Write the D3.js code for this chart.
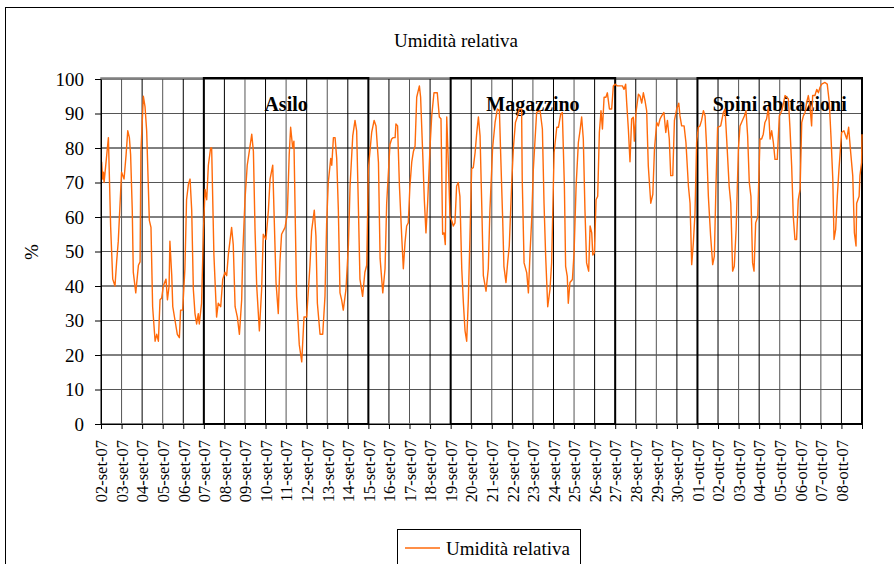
<!DOCTYPE html>
<html>
<head>
<meta charset="utf-8">
<script src="https://cdn.jsdelivr.net/npm/d3@7"></script>
<style>
  body { margin: 0; background: #fff; }
  text { font-family: "Liberation Serif", "Times New Roman", serif; fill: #000; }
</style>
</head>
<body>
<div id="chart"></div>
<script>
// day labels on the x axis (one per day, 02-set-07 .. 08-ott-07)
const dayLabels = [
  '02-set-07','03-set-07','04-set-07','05-set-07','06-set-07','07-set-07','08-set-07',
  '09-set-07','10-set-07','11-set-07','12-set-07','13-set-07','14-set-07','15-set-07',
  '16-set-07','17-set-07','18-set-07','19-set-07','20-set-07','21-set-07','22-set-07',
  '23-set-07','24-set-07','25-set-07','26-set-07','27-set-07','28-set-07','29-set-07',
  '30-set-07','01-ott-07','02-ott-07','03-ott-07','04-ott-07','05-ott-07','06-ott-07',
  '07-ott-07','08-ott-07'
];
const yTicks = [0, 10, 20, 30, 40, 50, 60, 70, 80, 90, 100];

// measurement time, in days since 02-set-07 00:00
const dayOffset = [
  0.03,0.08,0.12,0.15,0.36,0.47,0.57,0.68,0.76,0.84,1.0,1.12,1.22,1.30,1.38,1.44,1.52,1.57,1.69,1.82,
  1.90,1.94,2.06,2.14,2.22,2.35,2.43,2.51,2.63,2.71,2.79,2.87,2.95,3.03,3.16,3.23,3.31,3.35,3.44,3.49,
  3.60,3.71,3.81,3.87,3.97,4.08,4.16,4.25,4.33,4.41,4.49,4.57,4.65,4.73,4.78,4.89,4.98,5.06,5.14,5.22,
  5.33,5.38,5.49,5.62,5.70,5.82,5.92,6.03,6.11,6.19,6.35,6.43,6.52,6.63,6.73,6.84,6.89,7.0,7.11,7.21,
  7.33,7.41,7.49,7.57,7.70,7.81,7.89,8.02,8.14,8.22,8.35,8.41,8.51,8.62,8.70,8.78,8.95,9.06,9.15,9.22,
  9.32,9.38,9.51,9.64,9.76,9.87,10.0,10.16,10.24,10.37,10.45,10.52,10.65,10.78,10.89,10.97,11.05,11.17,11.22,11.30,
  11.38,11.46,11.54,11.62,11.70,11.78,11.91,12.03,12.11,12.24,12.35,12.43,12.51,12.59,12.72,12.83,12.92,13.0,13.16,13.28,
  13.37,13.49,13.57,13.70,13.81,13.89,14.05,14.13,14.21,14.30,14.34,14.42,14.51,14.62,14.70,14.78,14.86,14.94,15.02,15.11,
  15.19,15.27,15.35,15.48,15.54,15.64,15.72,15.80,15.88,16.0,16.08,16.19,16.35,16.45,16.53,16.61,16.68,16.74,16.81,16.89,
  16.97,17.05,17.13,17.21,17.29,17.37,17.45,17.54,17.62,17.70,17.78,17.86,17.94,18.02,18.10,18.19,18.27,18.35,18.43,18.51,
  18.59,18.72,18.83,18.91,19.04,19.16,19.27,19.37,19.43,19.53,19.59,19.69,19.77,19.85,19.97,20.05,20.15,20.24,20.34,20.45,
  20.48,20.57,20.70,20.78,20.86,20.94,21.02,21.18,21.35,21.46,21.54,21.62,21.72,21.83,21.91,22.03,22.16,22.24,22.35,22.43,
  22.53,22.59,22.67,22.72,22.80,22.92,23.0,23.10,23.21,23.29,23.37,23.45,23.53,23.61,23.71,23.78,23.86,23.91,23.99,24.07,
  24.15,24.23,24.31,24.38,24.46,24.55,24.62,24.72,24.83,24.91,24.99,25.10,25.23,25.35,25.43,25.51,25.56,25.64,25.72,25.80,
  25.88,25.93,26.01,26.13,26.21,26.29,26.37,26.45,26.53,26.61,26.73,26.83,26.91,27.02,27.10,27.18,27.26,27.37,27.46,27.54,
  27.63,27.70,27.80,27.88,27.99,28.09,28.15,28.23,28.35,28.44,28.56,28.64,28.72,28.80,28.88,28.96,29.04,29.12,29.20,29.29,
  29.37,29.45,29.53,29.64,29.74,29.82,29.90,29.98,30.13,30.26,30.34,30.42,30.54,30.62,30.71,30.79,30.88,30.99,31.07,31.18,
  31.28,31.36,31.44,31.52,31.60,31.68,31.75,31.83,31.93,32.04,32.12,32.20,32.28,32.36,32.45,32.53,32.61,32.69,32.77,32.88,
  32.98,33.10,33.26,33.42,33.50,33.58,33.66,33.74,33.82,33.90,33.99,34.07,34.15,34.23,34.31,34.39,34.47,34.55,34.60,34.71,
  34.80,34.88,34.96,35.04,35.20,35.31,35.41,35.49,35.58,35.64,35.72,35.80,35.88,36.01,36.12,36.26,36.35,36.45,36.55,36.63,
  36.71,36.74,36.86,36.90,36.98,37.0
];
// relative humidity (%)
const humidity = [
  76,71,73,70,83,57,42,40,47,53,73,71,78,85,83,78,62,44,38,46,
  47,79,95,92,85,59,57,34,24,26,24,36,36.5,40,42,36,40,53,43,34,
  30,26,25,33,33,45,65,69.5,71,62,39,32,29,32,29,35,56,68,65,75,
  80,80,49,31,35,34,42,44,43,49,57,52,34,31,26,36,49,65,75,79,
  84,79,56,40,27,39,55,53.5,62,71,75,62,41,32,47,55,57,61,78,86,
  80,82,37,23,18,31,31,46,56,62,54.5,35,26,26,37,58,70,77,75,83,
  83,77,62,38,36,33,39,52,69,83.5,88,85,64,42,37,44,46,74,84.5,88,
  86.4,75.8,48,38,45,64,81,82.6,83,83,87,86.4,69,54.5,45,52.5,57.4,58.3,69,76,
  79,80.6,94.7,98,94.7,78.7,65,55.4,64,80.6,89.3,96,96,89,88.5,55,55.4,52,89,75,
  60,59,57.4,58.3,69,70,66,45,35,27,24,36,54.5,74,74.3,78.7,84.5,89,83.5,64,
  43,38.5,45,62,80,87.4,91.3,91,78.7,59.3,45.7,41,46.7,51.6,70,80,87.4,89,91.3,91.3,
  71,46.7,43.8,38,49.6,59.3,73.8,90.3,90.8,85.5,64,48.6,34,39,46.7,78.7,86,86,89.8,90.3,
  69,45.7,42.8,35,41,41.9,49.6,69,81.6,85,89,82.6,62,46.7,44.3,57.4,55.4,49,49.6,65,
  66,84.5,90.8,85.5,94.7,94.7,96,91.3,91.3,98,98.5,98,98,98,97,98.5,93,85.5,76,88.4,
  88.9,82,90.3,95.6,95,93,96,93.7,90.8,74.8,64,66.6,79.7,87.4,86.4,88.4,89.3,90.3,84.5,88,
  82.6,72,72,88,91.3,93,89.3,86.4,86.4,81.6,69,64,46.2,52.5,61,81.6,86,86.4,88,90.8,
  89.3,79.7,66,54.5,46.2,48.6,69,86,86.4,90.3,91.3,82.6,69,64,44.3,45.7,56.4,79.7,86.4,87.9,
  89.3,90.8,83.5,70,66,46.7,44.3,58.3,60,82.6,82.6,84,87.4,88.4,91.8,82.6,85,81.6,76.7,76.7,
  89.3,90.8,95.2,94.2,85.5,74.8,60,53.5,53.5,65,68,87.4,89.3,90.3,93.2,95.2,92.2,86.4,95.2,95.2,
  97,96,97.6,98.5,99,98.5,93.2,83.5,71,53.5,56.4,66,73.8,84.5,85,82.6,86,78.7,72,55.4,
  51.6,64,66,72,75.8,84
];

// the three monitored sites, as day ranges
const zoneNames = ['Asilo', 'Magazzino', 'Spini abitazioni'];
const zoneFrom = [5, 17, 29];
const zoneTo = [13, 25, 37];

const W = 894, H = 564;
const plot = { left: 101, right: 862, top: 79, bottom: 424 };
const nDays = dayLabels.length;

const svg = d3.select('#chart').append('svg')
  .attr('width', W)
  .attr('height', H);

svg.append('rect')
  .attr('width', W).attr('height', H)
  .attr('fill', '#fff');

// outer chart border (runs off the right and bottom edges)
svg.append('rect')
  .attr('x', 5.5).attr('y', 7.5)
  .attr('width', 1000).attr('height', 1000)
  .attr('fill', 'none')
  .attr('stroke', '#000');

const x = d3.scaleLinear()
  .domain([0, nDays])
  .range([plot.left, plot.right]);

const y = d3.scaleLinear()
  .domain([0, 100])
  .range([plot.bottom, plot.top]);

// grid
const grid = svg.append('g').attr('class', 'grid');
grid.selectAll('line.h').data(yTicks)
  .enter().append('line')
    .attr('class', 'h')
    .attr('x1', plot.left).attr('x2', plot.right)
    .attr('y1', d => y(d)).attr('y2', d => y(d))
    .attr('stroke', (d, i) => i % 2 ? '#555' : '#000')
    .attr('stroke-width', 1);
grid.selectAll('line.v').data(d3.range(nDays + 1))
  .enter().append('line')
    .attr('class', 'v')
    .attr('x1', d => x(d)).attr('x2', d => x(d))
    .attr('y1', plot.top).attr('y2', plot.bottom)
    .attr('stroke', (d, i) => i % 2 ? '#555' : '#000')
    .attr('stroke-width', 1);

// plot frame
svg.append('rect')
  .attr('x', plot.left).attr('y', plot.top - 1)
  .attr('width', plot.right - plot.left)
  .attr('height', plot.bottom - plot.top + 1)
  .attr('fill', 'none')
  .attr('stroke', '#808080')
  .attr('stroke-width', 1.5);

// site boxes
const zones = svg.append('g').attr('class', 'zones');
zoneNames.forEach((name, i) => {
  zones.append('rect')
    .attr('x', x(zoneFrom[i]))
    .attr('y', plot.top - 1)
    .attr('width', x(zoneTo[i]) - x(zoneFrom[i]))
    .attr('height', plot.bottom - plot.top + 1)
    .attr('fill', 'none')
    .attr('stroke', '#000')
    .attr('stroke-width', 2);
  zones.append('text')
    .attr('x', (x(zoneFrom[i]) + x(zoneTo[i])) / 2)
    .attr('y', 111)
    .attr('text-anchor', 'middle')
    .style('font-size', '20px')
    .style('font-weight', 'bold')
    .text(name);
});

// humidity line
const line = d3.line()
  .x((d, i) => x(dayOffset[i]))
  .y(d => y(d));

svg.append('path')
  .datum(humidity)
  .attr('d', line)
  .attr('fill', 'none')
  .attr('stroke', '#ff6a0a')
  .attr('stroke-width', 1.4)
  .attr('stroke-linejoin', 'round');

// axes
const yAxis = d3.axisLeft(y)
  .tickValues(yTicks)
  .tickSizeInner(6)
  .tickSizeOuter(0)
  .tickPadding(11);
const gy = svg.append('g')
  .attr('transform', 'translate(' + plot.left + ',0)')
  .call(yAxis);
gy.select('.domain').attr('stroke', '#000');
gy.selectAll('text')
  .style('font-size', '19px')
  .style('font-family', '"Liberation Serif", "Times New Roman", serif');

const xAxis = d3.axisBottom(x)
  .tickValues(d3.range(nDays + 1))
  .tickFormat(i => dayLabels[i] || '')
  .tickSizeInner(5)
  .tickSizeOuter(0);
const gx = svg.append('g')
  .attr('transform', 'translate(0,' + plot.bottom + ')')
  .call(xAxis);
gx.select('.domain').attr('stroke', '#000');
gx.selectAll('text')
  .attr('transform', 'rotate(-90)')
  .attr('x', -16)
  .attr('y', 0)
  .attr('dy', '0.35em')
  .style('text-anchor', 'end')
  .style('font-size', '16.5px')
  .style('font-family', '"Liberation Serif", "Times New Roman", serif');

// titles
svg.append('text')
  .attr('x', 456)
  .attr('y', 47)
  .attr('text-anchor', 'middle')
  .style('font-size', '19px')
  .text('Umidità relativa');

svg.append('text')
  .attr('transform', 'translate(38,252) rotate(-90)')
  .attr('text-anchor', 'middle')
  .style('font-size', '19px')
  .text('%');

// legend
const legend = svg.append('g').attr('class', 'legend');
legend.append('rect')
  .attr('x', 397.5).attr('y', 529.5)
  .attr('width', 183).attr('height', 50)
  .attr('fill', '#fff')
  .attr('stroke', '#000');
legend.append('line')
  .attr('x1', 405).attr('x2', 440)
  .attr('y1', 548).attr('y2', 548)
  .attr('stroke', '#ff6a0a')
  .attr('stroke-width', 1.4);
legend.append('text')
  .attr('x', 446)
  .attr('y', 555)
  .style('font-size', '19px')
  .text('Umidità relativa');
</script>
</body>
</html>
